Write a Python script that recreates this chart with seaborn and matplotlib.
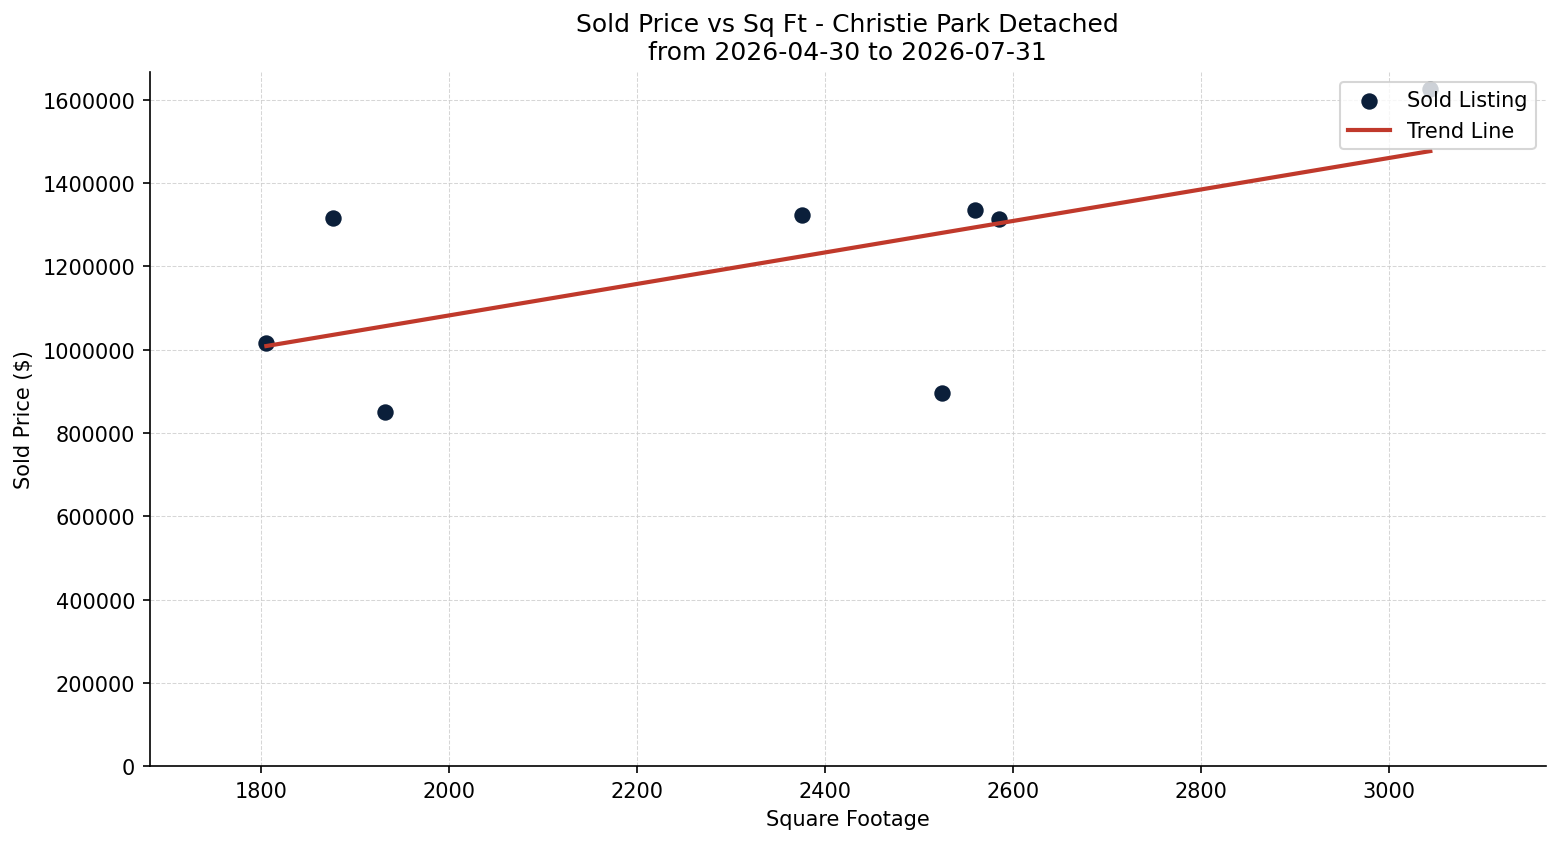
import numpy as np
import pandas as pd
import matplotlib
matplotlib.use("Agg")
import matplotlib.pyplot as plt
import seaborn as sns

# Sold listings
sqft = [1806, 1877, 1932, 2376, 2525, 2560, 2585, 3044]
sold_price = [1016000, 1316000, 850000, 1324000, 896000, 1336000, 1314000, 1626000]

title = "Sold Price vs Sq Ft - Christie Park Detached\nfrom 2026-04-30 to 2026-07-31"

df = pd.DataFrame({"Square Footage": sqft, "Sold Price ($)": sold_price})

plt.rcParams['font.family'] = ['DejaVu Sans']

fig, ax = plt.subplots(figsize=(10.4, 5.633), dpi=150)

sns.scatterplot(data=df, x="Square Footage", y="Sold Price ($)", color="#0b1f3a",
                s=62, linewidth=0, label="Sold Listing", ax=ax, zorder=2)

# Linear trend line fitted to the listings
slope, intercept = np.polyfit(df["Square Footage"], df["Sold Price ($)"], 1)
xs = np.array([df["Square Footage"].min(), df["Square Footage"].max()])
sns.lineplot(x=xs, y=slope * xs + intercept, color="#c0392b", linewidth=2,
             label="Trend Line", ax=ax, zorder=3)

ax.set_xlim(1682, 3167)
ax.set_ylim(0, 1667000)
ax.ticklabel_format(style="plain", axis="y")
ax.grid(True, linestyle="--", linewidth=0.5, color="#cccccc", alpha=0.8)
ax.set_axisbelow(True)
ax.set_title(title, fontsize=12)
ax.set_xlabel("Square Footage")
ax.set_ylabel("Sold Price ($)")
ax.legend(loc="upper right")
sns.despine(ax=ax)

fig.subplots_adjust(left=0.096, right=0.991, top=0.914, bottom=0.092)
plt.savefig("out.png", dpi=150)
